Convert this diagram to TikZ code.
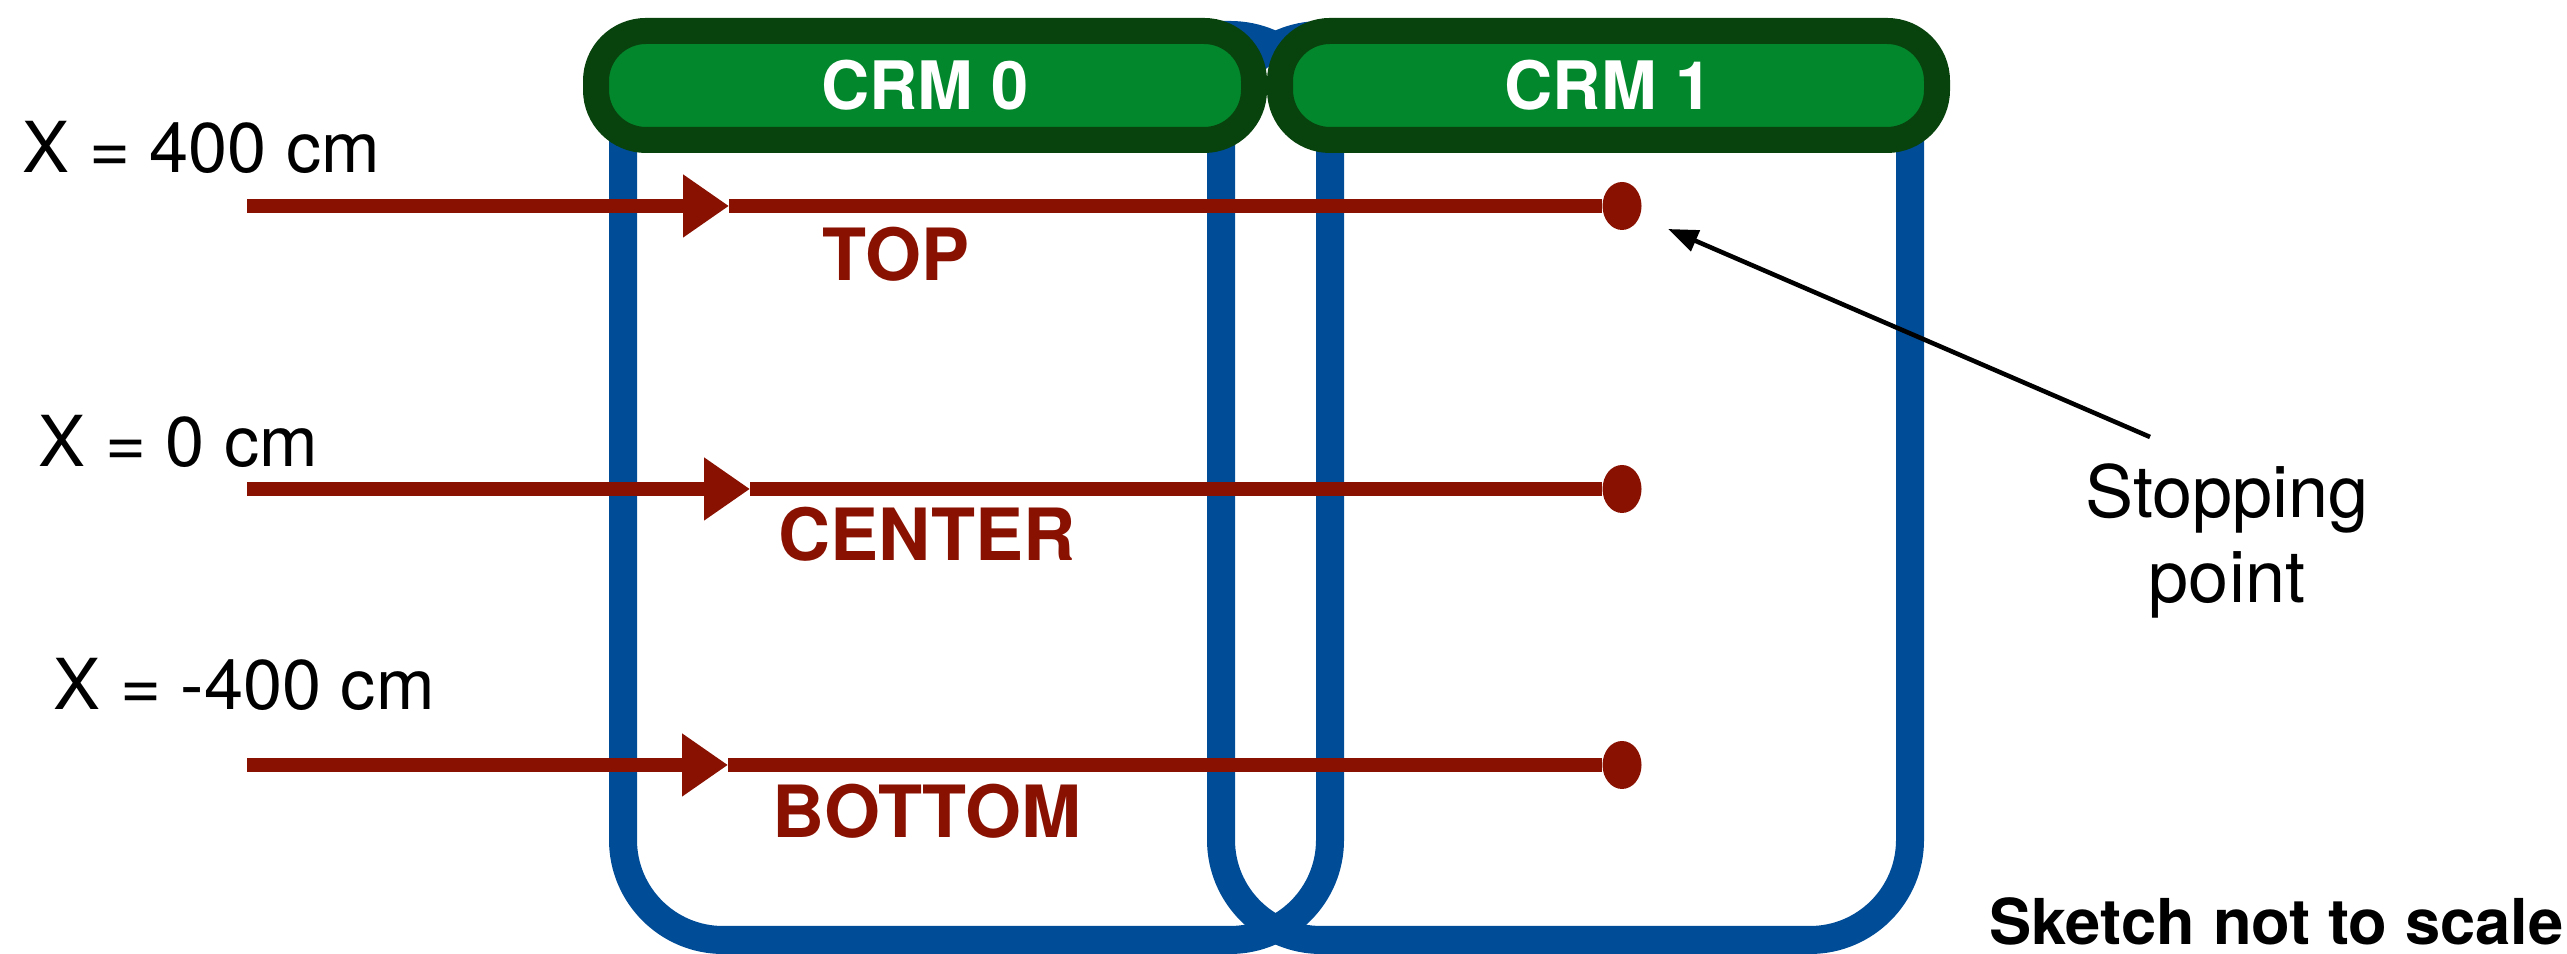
\documentclass[tikz,border=0pt]{standalone}
\usepackage{fontspec}
\setmainfont{TeX Gyre Heros}
\usetikzlibrary{arrows.meta, positioning, calc, shapes.geometric}
\definecolor{frameblue}{RGB}{0,76,151}
\definecolor{pilldark}{RGB}{8,66,12}
\definecolor{pillgreen}{RGB}{2,135,44}
\definecolor{trackred}{RGB}{136,17,2}
\tikzset{
    % blue outline of one readout module
    crmframe/.style={draw=frameblue, line width=0.28cm, rounded corners=1cm, inner sep=0pt},
    % green title pill sitting on top of a module
    crmpill/.style={draw=pilldark, fill=pillgreen, line width=0.26cm, rounded corners=0.5cm,
        minimum width=6.58cm, minimum height=1.09cm, text=white,
        font=\fontsize{19}{22}\selectfont\bfseries},
    % tracks, with the direction triangle half way in
    track/.style={draw=trackred, line width=3.8pt},
    trackhead/.style={track, -{Triangle[length=0.46cm, width=0.6cm]}},
    % end point of a track
    stopdot/.style={ellipse, fill=trackred, minimum width=0.39cm, minimum height=0.48cm, inner sep=0pt},
    % texts
    poslabel/.style={anchor=base west, inner sep=0pt, font=\fontsize{20}{24}\selectfont},
    tracklabel/.style={anchor=base, inner sep=0pt, text=trackred, font=\fontsize{20.5}{24}\selectfont\bfseries},
    notelabel/.style={anchor=base, inner sep=0pt, font=\fontsize{20.5}{24}\selectfont},
    % annotation arrow
    callout/.style={-{Triangle[length=0.3cm, width=0.22cm]}, line width=1.3pt},
}

\begin{document}
\begin{tikzpicture}
    \useasboundingbox (0,0) rectangle (25.67,9.54);

    % ===== module outlines (blue), overlapping in the middle =====
    \node[crmframe, minimum width=7.07cm, minimum height=9.05cm] (frame0) at (9.765, 4.665) {};
    \node[crmframe, minimum width=6.89cm, minimum height=9.05cm] (frame1) at (15.655, 4.665) {};

    % ===== title pills =====
    \node[crmpill] (crm0) at (9.25, 8.685) {CRM 0};
    \node[crmpill, minimum width=6.57cm] (crm1) at (16.085, 8.685) {CRM 1};

    % ===== top track =====
    \coordinate (in0) at (2.47, 7.48);
    \coordinate (mid0) at (7.29, 7.48);
    \node[stopdot] (stop0) at (16.22, 7.48) {};
    \draw[trackhead] (in0) -- (mid0);
    \draw[track] (mid0) -- (stop0);
    \node[poslabel] (pos0) at (0.22, 7.81) {X = 400 cm};
    \node[tracklabel] (name0) at (8.96, 6.73) {TOP};

    % ===== center track =====
    \coordinate (in1) at (2.47, 4.65);
    \coordinate (mid1) at (7.50, 4.65);
    \node[stopdot] (stop1) at (16.22, 4.65) {};
    \draw[trackhead] (in1) -- (mid1);
    \draw[track] (mid1) -- (stop1);
    \node[poslabel] (pos1) at (0.38, 4.87) {X = 0 cm};
    \node[tracklabel] (name1) at (9.27, 3.93) {CENTER};

    % ===== bottom track =====
    \coordinate (in2) at (2.47, 1.89);
    \coordinate (mid2) at (7.28, 1.89);
    \node[stopdot] (stop2) at (16.22, 1.89) {};
    \draw[trackhead] (in2) -- (mid2);
    \draw[track] (mid2) -- (stop2);
    \node[poslabel] (pos2) at (0.53, 2.44) {X = -400 cm};
    \node[tracklabel] (name2) at (9.27, 1.16) {BOTTOM};

    % ===== stopping point annotation =====
    \node[notelabel] (stoptxt) at (22.27, 4.36) {Stopping};
    \node[notelabel] (pointtxt) at (22.27, 3.51) {point};
    \coordinate (callfrom) at (21.50, 5.17);
    \draw[callout] (callfrom) -- ($(stop0)+(0.46,-0.23)$);

    \node[anchor=base east, inner sep=0pt, font=\fontsize{18}{22}\selectfont\bfseries]
        (scalenote) at (25.64, 0.09) {Sketch not to scale};

\end{tikzpicture}
\end{document}
